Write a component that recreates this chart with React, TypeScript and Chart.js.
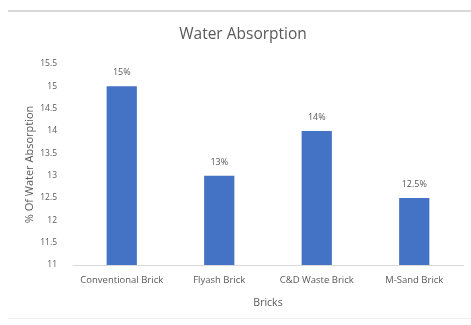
import React, { useEffect, useRef } from "react";
import { Chart, registerables } from "chart.js";

Chart.register(...registerables);

const categories = ["Conventional Brick", "Flyash Brick", "C&D Waste Brick", "M-Sand Brick"];
const absorption = [15, 13, 14, 12.5];
const valueLabels = ["15%", "13%", "14%", "12.5%"];
const yTicks = [11, 11.5, 12, 12.5, 13, 13.5, 14, 14.5, 15, 15.5];

const FONT = "'Open Sans', 'Noto Sans', sans-serif";
const TEXT = "#595959";

export default function App() {
  const ref = useRef<HTMLCanvasElement>(null);
  useEffect(() => {
    const canvas = ref.current!;
    const decor = {
      id: "decor",
      beforeDraw(chart: any) {
        const ctx = chart.ctx;
        ctx.save();
        ctx.fillStyle = "#fff";
        ctx.fillRect(0, 0, chart.width, chart.height);
        ctx.strokeStyle = "#d9d9d9";
        ctx.lineWidth = 2;
        ctx.beginPath();
        ctx.moveTo(8, 11);
        ctx.lineTo(471, 11);
        ctx.stroke();
        ctx.strokeStyle = "#f0f0f0";
        ctx.lineWidth = 1;
        ctx.beginPath();
        ctx.moveTo(8, 318.5);
        ctx.lineTo(471, 318.5);
        ctx.stroke();
        ctx.restore();
      },
      afterDraw(chart: any) {
        const ctx = chart.ctx;
        ctx.save();
        ctx.fillStyle = TEXT;
        ctx.font = `15.5px ${FONT}`;
        ctx.textAlign = "center";
        ctx.textBaseline = "middle";
        ctx.fillText("Water Absorption", 243, 35);
        ctx.font = `9px ${FONT}`;
        ctx.textBaseline = "bottom";
        const meta = chart.getDatasetMeta(0);
        meta.data.forEach((bar: any, i: number) => {
          ctx.fillText(valueLabels[i], bar.x, bar.y - 9);
        });
        ctx.restore();
      },
    };
    const chart = new Chart(canvas, {
      type: "bar",
      data: {
        labels: categories,
        datasets: [
          {
            data: absorption,
            backgroundColor: "#4472C4",
            borderWidth: 0,
            categoryPercentage: 1,
            barPercentage: 0.31,
          },
        ],
      },
      options: {
        animation: false,
        responsive: false,
        layout: { padding: { top: 64, left: 0, right: 8, bottom: 0 } },
        plugins: { legend: { display: false }, tooltip: { enabled: false }, title: { display: false } },
        scales: {
          x: {
            grid: { display: false, drawTicks: false },
            border: { display: true, color: "#d9d9d9", width: 1 },
            ticks: { color: TEXT, font: { family: FONT, size: 9.5 }, padding: 10, maxRotation: 0, autoSkip: false },
            title: { display: true, text: "Bricks", color: TEXT, font: { family: FONT, size: 10.5 }, padding: { bottom: 16 } },
            afterFit: (s: any) => { s.height = 60; },
          },
          y: {
            min: 11,
            max: 15.5,
            afterBuildTicks: (s: any) => { s.ticks = yTicks.map((v) => ({ value: v })); },
            grid: { display: false, drawTicks: false },
            border: { display: false },
            ticks: { color: TEXT, font: { family: FONT, size: 8.5 }, padding: 16, callback: (v: any) => String(v) },
            title: { display: true, text: "% Of Water Absorption", color: TEXT, font: { family: FONT, size: 11 }, padding: { top: 23 } },
            afterFit: (s: any) => { s.width = 73; },
          },
        },
      },
      plugins: [decor],
    });
    return () => chart.destroy();
  }, []);
  return (
    <div style={{ position: "absolute", left: 0, top: 0, width: 471, height: 325, background: "#fff" }}>
      <canvas ref={ref} width={471} height={325} />
    </div>
  );
}
